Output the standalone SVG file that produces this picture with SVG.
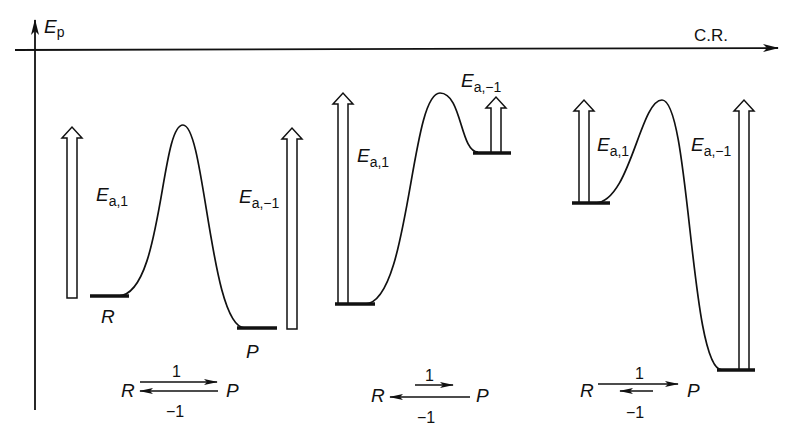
<svg xmlns="http://www.w3.org/2000/svg" width="791" height="430" viewBox="0 0 791 430">
<defs>
<style>
.ax{stroke:#111;stroke-width:1.8;fill:none}
.ha{fill:#fff;stroke:#111;stroke-width:1.5;stroke-linejoin:miter}
.lv{stroke:#111;stroke-width:3.5}
.cv{fill:none;stroke:#111;stroke-width:1.7}
.ra{stroke:#111;stroke-width:1.5;fill:none}
text{font-family:"Liberation Sans",Arial,sans-serif;fill:#111}
.it{font-style:italic;font-size:19px}
.sb{font-style:normal;font-size:14px}
.nm{font-size:16px}
</style>
<marker id="ah" viewBox="0 0 14 6" refX="13" refY="3" markerWidth="14" markerHeight="6" markerUnits="userSpaceOnUse" orient="auto">
<path d="M0,0 L14,3 L0,6 L3,3 Z" fill="#111"/>
</marker>
<marker id="axh" viewBox="0 0 16 8" refX="15" refY="4" markerWidth="16" markerHeight="8" markerUnits="userSpaceOnUse" orient="auto">
<path d="M0,0 L16,4 L0,8 L4,4 Z" fill="#111"/>
</marker>
</defs>

<g id="axes">
<line class="ax" x1="35" y1="410" x2="35" y2="20" marker-end="url(#axh)"/>
<line class="ax" x1="15" y1="50" x2="778" y2="48" marker-end="url(#axh)"/>
<text class="it" x="44" y="33">E<tspan class="sb" dy="4">p</tspan></text>
<text class="nm" x="694" y="41" style="font-size:17px">C.R.</text>
</g>

<g id="diagram1">
<path class="ha" d="M67,298 V138 H62 L72,127 L82,138 H77 V298 Z"/>
<path class="ha" d="M287,329 V139 H282 L292,128 L302,139 H297 V329 Z"/>
<line class="lv" x1="90" y1="296" x2="129" y2="296"/>
<line class="lv" x1="237" y1="328" x2="277" y2="328"/>
<path class="cv" d="M118,296 C163,296 160,125 183,125 C205,125 210,328 245,328"/>
<text class="it" x="96" y="201">E<tspan class="sb" dy="5">a,1</tspan></text>
<text class="it" x="239" y="203">E<tspan class="sb" dy="5">a,−1</tspan></text>
<text class="it" x="101" y="323">R</text>
<text class="it" x="246" y="358">P</text>
</g>

<g id="diagram2">
<path class="ha" d="M338,304 V104 H333 L343,93 L353,104 H348 V304 Z"/>
<path class="ha" d="M491,153 V108 H486 L496,97 L506,108 H501 V153 Z"/>
<line class="lv" x1="335" y1="304" x2="375" y2="304"/>
<line class="lv" x1="473" y1="153" x2="511" y2="153"/>
<path class="cv" d="M365,304 C410,304 410,93 440,93 C462,93 460,152 478,152"/>
<text class="it" x="357" y="162">E<tspan class="sb" dy="5">a,1</tspan></text>
<text class="it" x="461" y="87">E<tspan class="sb" dy="5">a,−1</tspan></text>
</g>

<g id="diagram3">
<path class="ha" d="M579,203 V111 H574 L584,100 L594,111 H589 V203 Z"/>
<path class="ha" d="M739,370 V111 H734 L744,100 L754,111 H749 V370 Z"/>
<line class="lv" x1="572" y1="203" x2="610" y2="203"/>
<line class="lv" x1="717" y1="370" x2="755" y2="370"/>
<path class="cv" d="M595,203 C630,203 640,100 662,100 C690,100 690,370 722,370"/>
<text class="it" x="597" y="151">E<tspan class="sb" dy="5">a,1</tspan></text>
<text class="it" x="691" y="151">E<tspan class="sb" dy="5">a,−1</tspan></text>
</g>

<g id="scheme1">
<text class="it" x="121" y="397">R</text>
<text class="it" x="226" y="397">P</text>
<text class="nm" x="172" y="377">1</text>
<text class="nm" x="166" y="417">−1</text>
</g>
<g id="scheme2">
<text class="it" x="371" y="402">R</text>
<text class="it" x="476" y="402">P</text>
<text class="nm" x="425" y="381">1</text>
<text class="nm" x="417" y="423">−1</text>
</g>
<g id="scheme3">
<text class="it" x="580" y="397">R</text>
<text class="it" x="687" y="397">P</text>
<text class="nm" x="635" y="379">1</text>
<text class="nm" x="626" y="418">−1</text>
</g>

<g id="connectors">
<line class="ra" x1="140" y1="382" x2="217" y2="382" marker-end="url(#ah)"/>
<line class="ra" x1="218" y1="391" x2="140" y2="391" marker-end="url(#ah)"/>
<line class="ra" x1="415" y1="385" x2="453" y2="385" marker-end="url(#ah)"/>
<line class="ra" x1="470" y1="397" x2="390" y2="397" marker-end="url(#ah)"/>
<line class="ra" x1="598" y1="384" x2="678" y2="384" marker-end="url(#ah)"/>
<line class="ra" x1="653" y1="391" x2="620" y2="391" marker-end="url(#ah)"/>
</g>
</svg>
